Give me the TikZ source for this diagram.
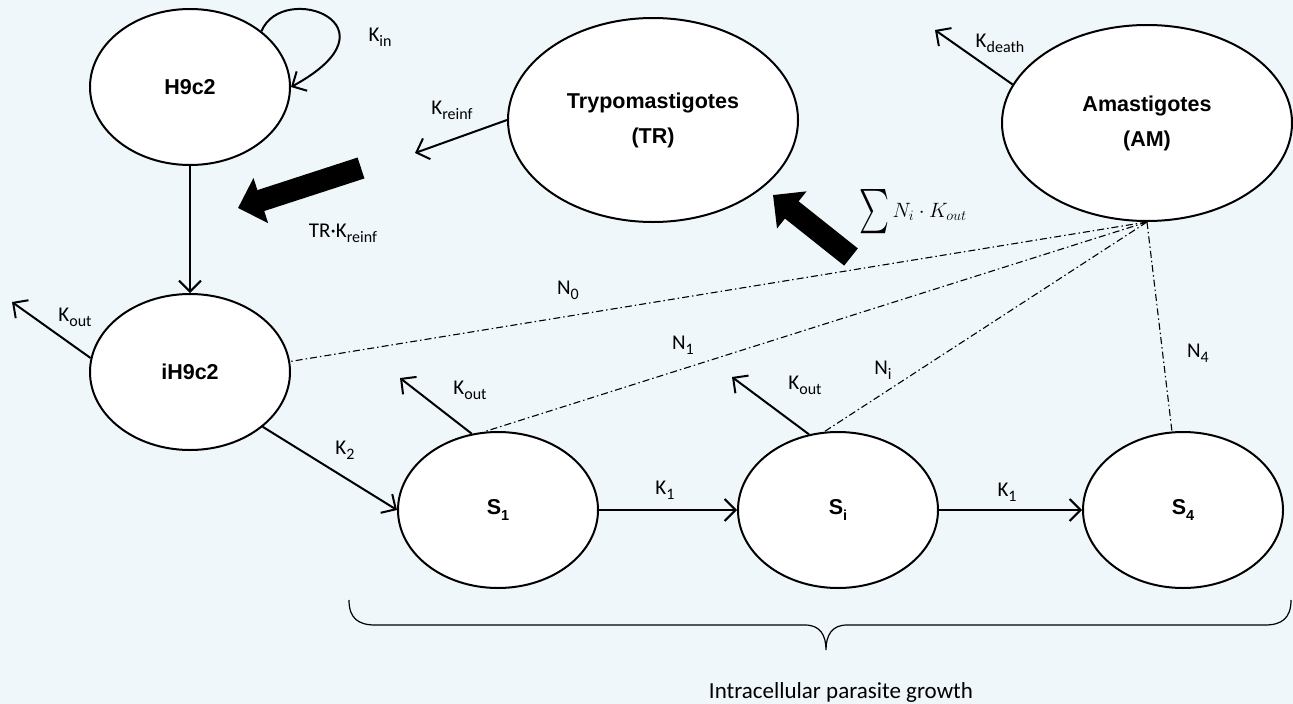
\documentclass[tikz,border=0pt]{standalone}
\usepackage{fontspec}
\usepackage{graphicx}
\setmainfont{Carlito}
\newfontfamily\arialfont{Liberation Sans}
\usetikzlibrary{arrows.meta,shapes.geometric}
\definecolor{bgc}{RGB}{240,247,250}
\newcommand\lsub[1]{\raisebox{-5pt}{\fontsize{16}{16}\selectfont #1}}
\newcommand\nsub[1]{\raisebox{-6pt}{\fontsize{14.5}{14.5}\selectfont #1}}
\begin{document}
\begin{tikzpicture}[x=1pt,y=-1pt,
  st/.style={ellipse,draw,line width=2pt,fill=white,minimum width=200pt,minimum height=156pt,inner sep=0pt,
    font=\arialfont\bfseries\fontsize{21.5}{35}\selectfont,align=center},
  lbl/.style={font=\fontsize{21}{25}\selectfont,inner sep=0pt},
  conn/.style={line width=2pt,-{Straight Barb[length=11pt,width=22pt]}},
  dd/.style={line width=1.1pt,dash pattern=on 7pt off 3pt on 1.5pt off 3pt},
  fat/.style={line width=22pt,-{Triangle[length=24pt,width=46pt]}}]
\fill[bgc] (0,0) rectangle (1293,704);
\useasboundingbox (0,0) rectangle (1293,704);

% nodes
\node[st] (h) at (190,87) {H9c2};
\node[st,minimum width=290pt,minimum height=204pt] (tr) at (653,120) {Trypomastigotes\\(TR)};
\node[st,minimum width=290pt,minimum height=196pt] (am) at (1147,123) {Amastigotes\\(AM)};
\node[st] (ih) at (190,372) {iH9c2};
\node[st] (s1) at (498,510) {S\nsub{1}};
\node[st] (si) at (838,510) {S\nsub{i}};
\node[st] (s4) at (1183,510) {S\nsub{4}};

% free ends
\coordinate (krE) at (415,153);
\coordinate (kdE) at (935,30);
\coordinate (k0E) at (12,302);
\coordinate (k1E) at (400,378);
\coordinate (kiE) at (732,377);
\coordinate (f1s) at (361,168);
\coordinate (f1e) at (238,208);
\coordinate (f2s) at (851,257);
\coordinate (f2e) at (773,195);

% dash-dot links
\draw[dd] (am.south) -- (ih.6);
\draw[dd] (am.south) -- (s1.100);
\draw[dd] (am.south) -- (si.100);
\draw[dd] (am.south) -- (s4.98);

% connectors
\draw[conn] (h.38) .. controls (283,-20) and (405,25) .. (h.east);
\draw[conn] (h) -- (ih);
\draw[conn] (tr.west) -- (krE);
\draw[conn] (am.164) -- (kdE);
\draw[conn] (ih.172) -- (k0E);
\draw[conn] (ih.-37) -- (s1.west);
\draw[conn] (s1.east) -- (si.west);
\draw[conn] (si.east) -- (s4.west);
\draw[conn] (s1.109) -- (k1E);
\draw[conn] (si.111) -- (kiE);

% thick arrows
\draw[fat] (f1s) -- (f1e);
\draw[fat] (f2s) -- (f2e);

% labels
\node[lbl] (lkin) at (380,37) {K\lsub{in}};
\node[lbl] (lkr) at (452,110) {K\lsub{reinf}};
\node[lbl] (ltrk) at (343,233) {TR·K\lsub{reinf}};
\node[lbl] (lkd) at (1000,43) {K\lsub{death}};
\node[lbl] (lsum) at (913,212) {$\vcenter{\hbox{\resizebox*{30pt}{45pt}{$\sum$}}}\, N_i\cdot K_{out}$};
\node[lbl] (ln0) at (568,290) {N\lsub{0}};
\node[lbl] (ln1) at (683,345) {N\lsub{1}};
\node[lbl] (lni) at (883,370) {N\lsub{i}};
\node[lbl] (ln4) at (1198,353) {N\lsub{4}};
\node[lbl] (lko0) at (75,317) {K\lsub{out}};
\node[lbl] (lko1) at (470,390) {K\lsub{out}};
\node[lbl] (lkoi) at (805,385) {K\lsub{out}};
\node[lbl] (lk2) at (345,450) {K\lsub{2}};
\node[lbl] (lk1a) at (665,490) {K\lsub{1}};
\node[lbl] (lk1b) at (1007,492) {K\lsub{1}};

% brace
\draw[line width=1.2pt] (349,600) .. controls (349,618) and (358,625) .. (375,625) -- (805,625)
  .. controls (820,625) and (826,635) .. (826,650)
  .. controls (826,635) and (832,625) .. (847,625) -- (1265,625)
  .. controls (1282,625) and (1291,618) .. (1291,600);
\node[lbl,font=\fontsize{23}{27}\selectfont] (lgrowth) at (841,692) {Intracellular parasite growth};
\end{tikzpicture}
\end{document}
